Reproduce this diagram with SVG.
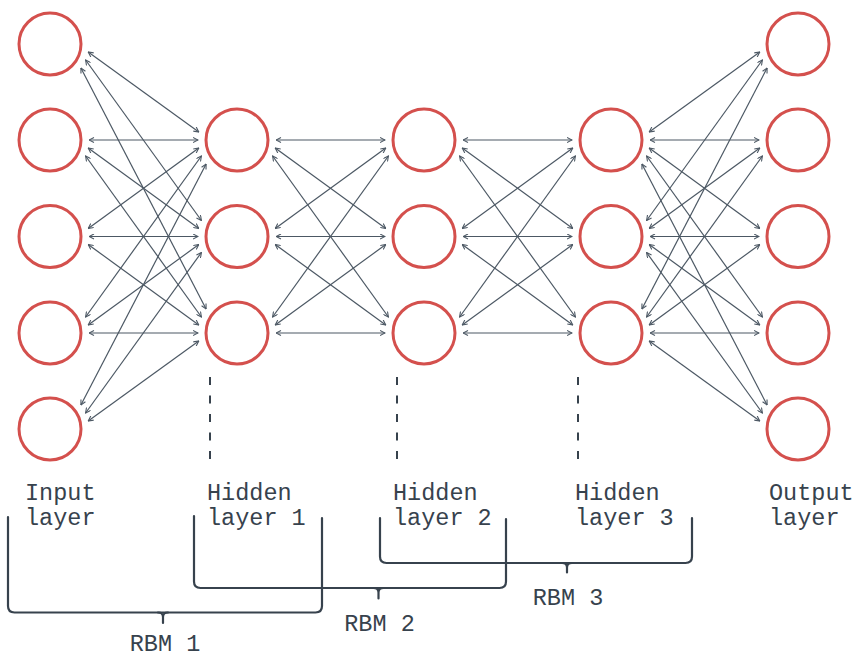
<svg xmlns="http://www.w3.org/2000/svg" width="859" height="657" viewBox="0 0 859 657">
<defs>
<style>
.node{fill:#fff;stroke:#d4504d;stroke-width:3}
.edge{stroke:#4c5864;stroke-width:1.2;fill:none;marker-start:url(#ah);marker-end:url(#ah)}
.dash{stroke:#37424d;stroke-width:2;stroke-dasharray:8 10.5;fill:none}
.brace{stroke:#37424d;stroke-width:2.2;fill:none;stroke-linecap:round}
.lbl{font-family:"Liberation Mono","DejaVu Sans Mono",monospace;font-size:23.5px;fill:#37424d}
.rbm{font-family:"Liberation Mono","DejaVu Sans Mono",monospace;font-size:23.5px;fill:#37424d;text-anchor:middle}
</style>
<marker id="ah" viewBox="0 0 6 6" refX="5.5" refY="3" markerWidth="6" markerHeight="6" markerUnits="userSpaceOnUse" orient="auto-start-reverse">
<path d="M0.5,0.5 L5.5,3 L0.5,5.5" fill="none" stroke="#4c5864" stroke-width="1.1"/>
</marker>
</defs>
<rect width="859" height="657" fill="#fff"/>
<g id="connectors">
<line class="edge" x1="88.2" y1="52" x2="198.8" y2="132"/>
<line class="edge" x1="85.6" y1="60" x2="201.4" y2="220.5"/>
<line class="edge" x1="80.9" y1="68" x2="206.1" y2="309"/>
<line class="edge" x1="89" y1="140" x2="198" y2="140"/>
<line class="edge" x1="88.2" y1="148" x2="198.8" y2="228.5"/>
<line class="edge" x1="85.6" y1="156" x2="201.4" y2="317"/>
<line class="edge" x1="88.2" y1="228.5" x2="198.8" y2="148"/>
<line class="edge" x1="89" y1="236.5" x2="198" y2="236.5"/>
<line class="edge" x1="88.2" y1="244.5" x2="198.8" y2="325"/>
<line class="edge" x1="85.6" y1="317" x2="201.4" y2="156"/>
<line class="edge" x1="88.2" y1="325" x2="198.8" y2="244.5"/>
<line class="edge" x1="89" y1="333" x2="198" y2="333"/>
<line class="edge" x1="80.9" y1="405" x2="206.1" y2="164"/>
<line class="edge" x1="85.6" y1="413" x2="201.4" y2="252.5"/>
<line class="edge" x1="88.2" y1="421" x2="198.8" y2="341"/>

<line class="edge" x1="276" y1="140" x2="385" y2="140"/>
<line class="edge" x1="275.2" y1="148" x2="385.8" y2="228.5"/>
<line class="edge" x1="272.6" y1="156" x2="388.4" y2="317"/>
<line class="edge" x1="275.2" y1="228.5" x2="385.8" y2="148"/>
<line class="edge" x1="276" y1="236.5" x2="385" y2="236.5"/>
<line class="edge" x1="275.2" y1="244.5" x2="385.8" y2="325"/>
<line class="edge" x1="272.6" y1="317" x2="388.4" y2="156"/>
<line class="edge" x1="275.2" y1="325" x2="385.8" y2="244.5"/>
<line class="edge" x1="276" y1="333" x2="385" y2="333"/>

<line class="edge" x1="463" y1="140" x2="572" y2="140"/>
<line class="edge" x1="462.2" y1="148" x2="572.8" y2="228.5"/>
<line class="edge" x1="459.6" y1="156" x2="575.4" y2="317"/>
<line class="edge" x1="462.2" y1="228.5" x2="572.8" y2="148"/>
<line class="edge" x1="463" y1="236.5" x2="572" y2="236.5"/>
<line class="edge" x1="462.2" y1="244.5" x2="572.8" y2="325"/>
<line class="edge" x1="459.6" y1="317" x2="575.4" y2="156"/>
<line class="edge" x1="462.2" y1="325" x2="572.8" y2="244.5"/>
<line class="edge" x1="463" y1="333" x2="572" y2="333"/>

<line class="edge" x1="649.2" y1="132" x2="759.8" y2="52"/>
<line class="edge" x1="650" y1="140" x2="759" y2="140"/>
<line class="edge" x1="649.2" y1="148" x2="759.8" y2="228.5"/>
<line class="edge" x1="646.6" y1="156" x2="762.4" y2="317"/>
<line class="edge" x1="641.9" y1="164" x2="767.1" y2="405"/>
<line class="edge" x1="646.6" y1="220.5" x2="762.4" y2="60"/>
<line class="edge" x1="649.2" y1="228.5" x2="759.8" y2="148"/>
<line class="edge" x1="650" y1="236.5" x2="759" y2="236.5"/>
<line class="edge" x1="649.2" y1="244.5" x2="759.8" y2="325"/>
<line class="edge" x1="646.6" y1="252.5" x2="762.4" y2="413"/>
<line class="edge" x1="641.9" y1="309" x2="767.1" y2="68"/>
<line class="edge" x1="646.6" y1="317" x2="762.4" y2="156"/>
<line class="edge" x1="649.2" y1="325" x2="759.8" y2="244.5"/>
<line class="edge" x1="650" y1="333" x2="759" y2="333"/>
<line class="edge" x1="649.2" y1="341" x2="759.8" y2="421"/>
</g>
<g id="input-layer">
<circle class="node" cx="50" cy="44" r="31"/>
<circle class="node" cx="50" cy="140" r="31"/>
<circle class="node" cx="50" cy="236.5" r="31"/>
<circle class="node" cx="50" cy="333" r="31"/>
<circle class="node" cx="50" cy="429" r="31"/>
<text class="lbl" x="25" y="500">Input</text>
<text class="lbl" x="25" y="525">layer</text>
</g>
<g id="hidden-layer-1">
<circle class="node" cx="237" cy="140" r="31"/>
<circle class="node" cx="237" cy="236.5" r="31"/>
<circle class="node" cx="237" cy="333" r="31"/>
<line class="dash" x1="210" y1="377" x2="210" y2="460"/>
<text class="lbl" x="207" y="500">Hidden</text>
<text class="lbl" x="207" y="525">layer 1</text>
</g>
<g id="hidden-layer-2">
<circle class="node" cx="424" cy="140" r="31"/>
<circle class="node" cx="424" cy="236.5" r="31"/>
<circle class="node" cx="424" cy="333" r="31"/>
<line class="dash" x1="397" y1="377" x2="397" y2="460"/>
<text class="lbl" x="393" y="500">Hidden</text>
<text class="lbl" x="393" y="525">layer 2</text>
</g>
<g id="hidden-layer-3">
<circle class="node" cx="611" cy="140" r="31"/>
<circle class="node" cx="611" cy="236.5" r="31"/>
<circle class="node" cx="611" cy="333" r="31"/>
<line class="dash" x1="578" y1="377" x2="578" y2="460"/>
<text class="lbl" x="575" y="500">Hidden</text>
<text class="lbl" x="575" y="525">layer 3</text>
</g>
<g id="output-layer">
<circle class="node" cx="798" cy="44" r="31"/>
<circle class="node" cx="798" cy="140" r="31"/>
<circle class="node" cx="798" cy="236.5" r="31"/>
<circle class="node" cx="798" cy="333" r="31"/>
<circle class="node" cx="798" cy="429" r="31"/>
<text class="lbl" x="769" y="500">Output</text>
<text class="lbl" x="769" y="525">layer</text>
</g>
<g id="rbm-1">
<path class="brace" d="M8 517 V606 Q8 612.5 14.5 612.5 H315.5 Q322 612.5 322 606 V518"/>
<path class="brace" d="M158 612.5 Q163 612.5 163 617 V623 M168 612.5 Q163 612.5 163 617"/>
<text class="rbm" x="165" y="651">RBM 1</text>
</g>
<g id="rbm-2">
<path class="brace" d="M194 516 V581.5 Q194 588 200.5 588 H499.5 Q506 588 506 581.5 V519"/>
<path class="brace" d="M373.5 588 Q378.5 588 378.5 592.5 V598.5 M383.5 588 Q378.5 588 378.5 592.5"/>
<text class="rbm" x="379.5" y="631">RBM 2</text>
</g>
<g id="rbm-3">
<path class="brace" d="M380 518 V556.5 Q380 563 386.5 563 H685.5 Q692 563 692 556.5 V518"/>
<path class="brace" d="M562 563 Q567 563 567 567.5 V572.5 M572 563 Q567 563 567 567.5"/>
<text class="rbm" x="568" y="605">RBM 3</text>
</g>
</svg>
